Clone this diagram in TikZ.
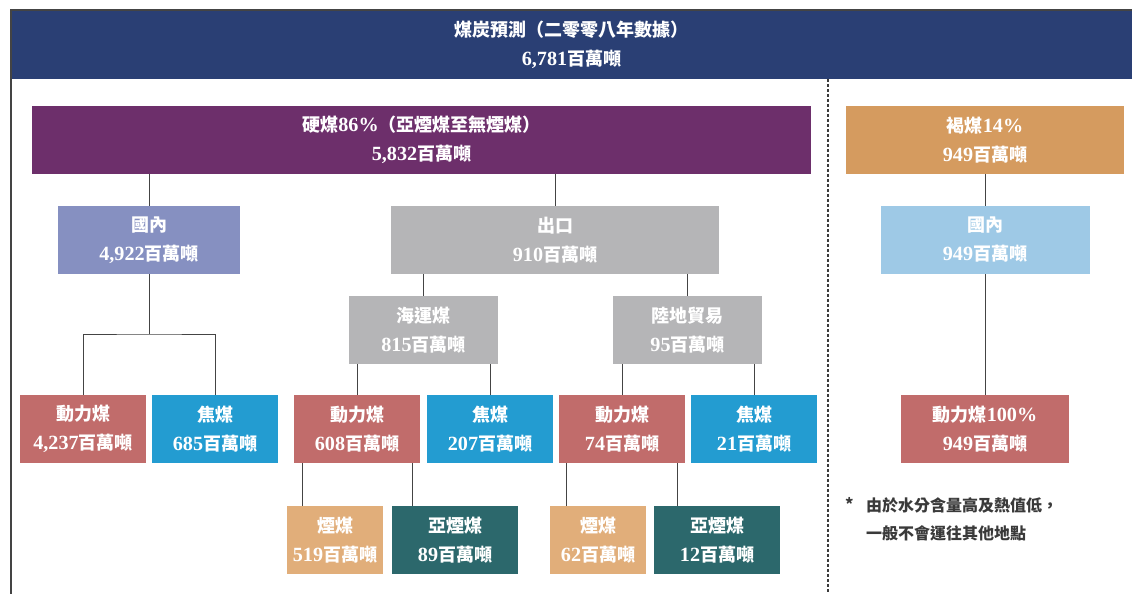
\documentclass[tikz,border=0pt]{standalone}
\usepackage{fontspec}
\setmainfont{Noto Sans CJK TC}
\newfontfamily\nf{Liberation Serif}[Scale=1.12]
\newcommand\nm[1]{{\nf\bfseries #1}}
\definecolor{navy}{HTML}{2A3F74}
\definecolor{hardc}{HTML}{6D2F6B}
\definecolor{ligc}{HTML}{D59B5F}
\definecolor{domlc}{HTML}{8690C1}
\definecolor{grayc}{HTML}{B5B5B7}
\definecolor{domrc}{HTML}{9EC9E6}
\definecolor{thc}{HTML}{C16C6B}
\definecolor{ckc}{HTML}{239CD1}
\definecolor{bitc}{HTML}{E1AE7A}
\definecolor{subc}{HTML}{2C686C}
\definecolor{linec}{HTML}{444444}
\definecolor{notec}{HTML}{3A3A3A}
\begin{document}
\begin{tikzpicture}[x=1pt,y=-1pt,
  box/.style={inner sep=0pt, text=white, align=center, minimum height=68pt,
    font=\bfseries\fontsize{18}{29}\selectfont},
  link/.style={draw=linec, line width=1pt},
  framel/.style={draw=linec, line width=1.6pt},
  dashline/.style={draw=notec, line width=1.3pt, dash pattern=on 3pt off 2pt},
  notetext/.style={anchor=west, inner sep=0pt, text=notec, font=\bfseries\fontsize{16}{16}\selectfont}]
\useasboundingbox (0,0) rectangle (1132,594);
% header
\node[box, fill=navy, minimum width=1121pt, minimum height=69pt] (hdr) at (571.5,44.5)
  {煤炭預測（二零零八年數據）\\\nm{6,781}百萬噸};
\draw[framel] (11,594) -- (11,10) -- (1132,10);
\draw[dashline] (828,79) -- (828,594);
% level 1
\node[box, fill=hardc, minimum width=779pt] (hard) at (421.5,140)
  {硬煤\nm{86\%}（亞煙煤至無煙煤）\\\nm{5,832}百萬噸};
\node[box, fill=ligc, minimum width=278pt] (lig) at (985,140)
  {褐煤\nm{14\%}\\\nm{949}百萬噸};
% level 2
\node[box, fill=domlc, minimum width=182pt] (domL) at (149,240) {國內\\\nm{4,922}百萬噸};
\node[box, fill=grayc, minimum width=328pt] (exp) at (555,240) {出口\\\nm{910}百萬噸};
\node[box, fill=domrc, minimum width=209pt] (domR) at (985,240) {國內\\\nm{949}百萬噸};
% level 3
\node[box, fill=grayc, minimum width=149pt] (sea) at (423.5,330) {海運煤\\\nm{815}百萬噸};
\node[box, fill=grayc, minimum width=149pt] (land) at (687.5,330) {陸地貿易\\\nm{95}百萬噸};
% level 4
\node[box, fill=thc, minimum width=126pt] (th1) at (83,429) {動力煤\\\nm{4,237}百萬噸};
\node[box, fill=ckc, minimum width=126pt] (ck1) at (215,429) {焦煤\\\nm{685}百萬噸};
\node[box, fill=thc, minimum width=126pt] (th2) at (357,429) {動力煤\\\nm{608}百萬噸};
\node[box, fill=ckc, minimum width=126pt] (ck2) at (490,429) {焦煤\\\nm{207}百萬噸};
\node[box, fill=thc, minimum width=126pt] (th3) at (622,429) {動力煤\\\nm{74}百萬噸};
\node[box, fill=ckc, minimum width=126pt] (ck3) at (754,429) {焦煤\\\nm{21}百萬噸};
\node[box, fill=thc, minimum width=168pt] (th4) at (985,429) {動力煤\nm{100\%}\\\nm{949}百萬噸};
% level 5
\node[box, fill=bitc, minimum width=96pt] (bit1) at (335,540) {煙煤\\\nm{519}百萬噸};
\node[box, fill=subc, minimum width=126pt] (sub1) at (455,540) {亞煙煤\\\nm{89}百萬噸};
\node[box, fill=bitc, minimum width=96pt] (bit2) at (598,540) {煙煤\\\nm{62}百萬噸};
\node[box, fill=subc, minimum width=126pt] (sub2) at (717,540) {亞煙煤\\\nm{12}百萬噸};
% note
\node[notetext] (star) at (845,504) {*};
\node[notetext] (note1) at (866,505) {由於水分含量高及熱值低，};
\node[notetext] (note2) at (866,533) {一般不會運往其他地點};
% connectors
\draw[link] (hard.south -| domL.north) -- (domL.north);
\draw[link] (hard.south -| exp.north) -- (exp.north);
\draw[link] (lig.south -| domR.north) -- (domR.north);
\draw[link] (domR.south -| th4.north) -- (th4.north);
\coordinate (bk) at (149,334);
\draw[link] (domL.south) -- (bk);
\draw[link] (th1.north) |- (bk) -| (ck1.north);
\draw[link] (exp.south -| sea.north) -- (sea.north);
\draw[link] (exp.south -| land.north) -- (land.north);
\draw[link] (sea.south -| th2.north) -- (th2.north);
\draw[link] (sea.south -| ck2.north) -- (ck2.north);
\draw[link] (land.south -| th3.north) -- (th3.north);
\draw[link] (land.south -| ck3.north) -- (ck3.north);
\draw[link] ([xshift=9pt]th2.south west) -- ([xshift=9pt]th2.south west |- bit1.north);
\draw[link] ([xshift=-8pt]th2.south east) -- ([xshift=-8pt]th2.south east |- sub1.north);
\draw[link] ([xshift=8pt]th3.south west) -- ([xshift=8pt]th3.south west |- bit2.north);
\draw[link] ([xshift=-8pt]th3.south east) -- ([xshift=-8pt]th3.south east |- sub2.north);
\end{tikzpicture}
\end{document}
